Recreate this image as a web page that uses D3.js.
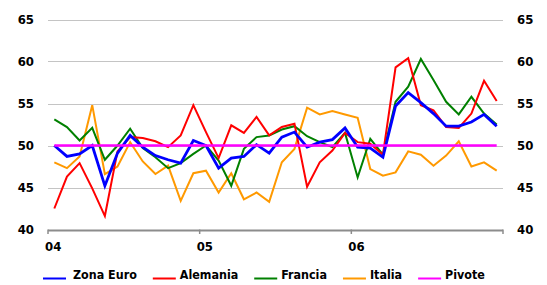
<!DOCTYPE html>
<html>
<head>
<meta charset="utf-8">
<script src="https://cdn.jsdelivr.net/npm/d3@7.9.0/dist/d3.min.js"></script>
<style>
  body { margin: 0; background: #fff; }
  svg text { font-family: "DejaVu Sans Condensed", "DejaVu Sans", sans-serif; font-weight: bold; font-size: 13px; fill: #000; }
  svg .legend text { font-size: 12.4px; }
</style>
</head>
<body>
<svg width="547" height="285"></svg>
<script>
// months Jan 2004 .. Dec 2006
const months = d3.range(36);
const yearLabels = ['04', '05', '06'];
const yTicks = [40, 45, 50, 55, 60, 65];

const zonaEuro = [50.0, 48.7, 49.0, 50.0, 45.2, 49.1, 51.2, 49.8, 48.8, 48.3, 47.9, 50.6,
                  50.0, 47.3, 48.5, 48.7, 50.1, 49.1, 51.0, 51.6, 49.8, 50.4, 50.7, 52.1,
                  49.8, 49.7, 48.6, 54.7, 56.3, 55.1, 53.8, 52.3, 52.3, 52.8, 53.7, 52.3];
const alemania = [42.5, 46.3, 47.9, 44.9, 41.6, 49.3, 51.0, 50.9, 50.5, 49.8, 51.2, 54.8,
                  51.6, 48.5, 52.4, 51.5, 53.4, 51.2, 52.2, 52.6, 45.1, 48.0, 49.4, 51.5,
                  50.4, 50.2, 48.9, 59.3, 60.4, 54.8, 54.2, 52.2, 52.1, 53.8, 57.7, 55.3];
const francia = [53.1, 52.2, 50.6, 52.1, 48.3, 50.0, 52.0, 49.7, 48.6, 47.3, 47.9, 49.0,
                 50.0, 48.2, 45.2, 49.6, 51.0, 51.2, 51.9, 52.3, 51.1, 50.4, 49.8, 51.5,
                 46.2, 50.8, 48.9, 55.2, 57.0, 60.3, 57.8, 55.2, 53.7, 55.8, 53.8, 52.5];
const italia = [48.0, 47.3, 48.7, 54.8, 46.6, 47.5, 50.4, 48.1, 46.6, 47.6, 43.4, 46.7,
                47.0, 44.4, 46.7, 43.6, 44.4, 43.3, 48.0, 49.6, 54.5, 53.7, 54.1, 53.7,
                53.3, 47.2, 46.4, 46.8, 49.3, 48.9, 47.6, 48.8, 50.5, 47.5, 48.0, 47.0];
const pivote = months.map(() => 50);

const series = [
  { name: 'Zona Euro', values: zonaEuro, color: '#0000ff', width: 2.8 },
  { name: 'Alemania', values: alemania, color: '#ff0000', width: 2 },
  { name: 'Francia', values: francia, color: '#008000', width: 2 },
  { name: 'Italia', values: italia, color: '#ff9900', width: 2 },
  { name: 'Pivote', values: pivote, color: '#ff00ff', width: 2.5 }
];
// drawing order (pivote on top)
const drawOrder = ['Italia', 'Francia', 'Alemania', 'Zona Euro', 'Pivote'];

const svg = d3.select('svg');
const plotLeft = 48, plotRight = 503, plotTop = 19.5, plotBottom = 229.5;

let x = d3.scaleBand().domain(months).range([plotLeft, plotRight]);
let y = d3.scaleLinear().domain([40, 65]).range([plotBottom, plotTop]);

// grid lines
svg.append('g')
  .selectAll('line')
  .data(yTicks.filter(d => d > 40))
  .join('line')
  .attr('x1', plotLeft).attr('x2', plotRight)
  .attr('y1', d => Math.round(y(d)) + 0.5).attr('y2', d => Math.round(y(d)) + 0.5)
  .attr('stroke', '#c4c4c4').attr('stroke-width', 1.2);

// y labels both sides
svg.append('g').selectAll('text')
  .data(yTicks).join('text')
  .attr('x', 34).attr('y', d => y(d)).attr('dy', '0.35em')
  .attr('text-anchor', 'end').text(d => d);
svg.append('g').selectAll('text')
  .data(yTicks).join('text')
  .attr('x', 517).attr('y', d => y(d)).attr('dy', '0.35em')
  .attr('text-anchor', 'start').text(d => d);

// x axis
let yearTicks = [0, 12, 24].map(m => x(m)).concat([plotRight]);
let axis = svg.append('g');
axis.append('line')
  .attr('x1', plotLeft).attr('x2', plotRight)
  .attr('y1', 230.5).attr('y2', 230.5)
  .attr('stroke', '#8c8c8c').attr('stroke-width', 2);
axis.selectAll('.tick')
  .data(yearTicks).join('line')
  .attr('class', 'tick')
  .attr('x1', d => d).attr('x2', d => d)
  .attr('y1', 229.5).attr('y2', 234)
  .attr('stroke', '#8c8c8c').attr('stroke-width', 1.5);
axis.selectAll('text')
  .data(yearLabels).join('text')
  .attr('x', (d, i) => yearTicks[i] - 3)
  .attr('y', 246).attr('dy', '0.35em')
  .text(d => d);

// lines
let line = d3.line()
  .x((d, i) => x(i) + x.bandwidth() / 2)
  .y(d => y(d));

drawOrder.forEach(name => {
  let s = series.find(d => d.name === name);
  svg.append('path')
    .attr('d', line(s.values))
    .attr('fill', 'none')
    .attr('stroke', s.color)
    .attr('stroke-width', s.width)
    .attr('stroke-linejoin', 'miter');
});

// legend
let legend = svg.append('g').attr('class', 'legend');
let lx = 43;
series.forEach((s, i) => {
  legend.append('line')
    .attr('x1', lx).attr('x2', lx + 23)
    .attr('y1', 278.5).attr('y2', 278.5)
    .attr('stroke', s.color).attr('stroke-width', 2);
  let gap = i === 0 ? 30 : 27;
  let t = legend.append('text')
    .attr('x', lx + gap).attr('y', 275).attr('dy', '0.35em')
    .text(s.name);
  lx += gap + t.node().getComputedTextLength() + 16;
});
</script>
</body>
</html>
